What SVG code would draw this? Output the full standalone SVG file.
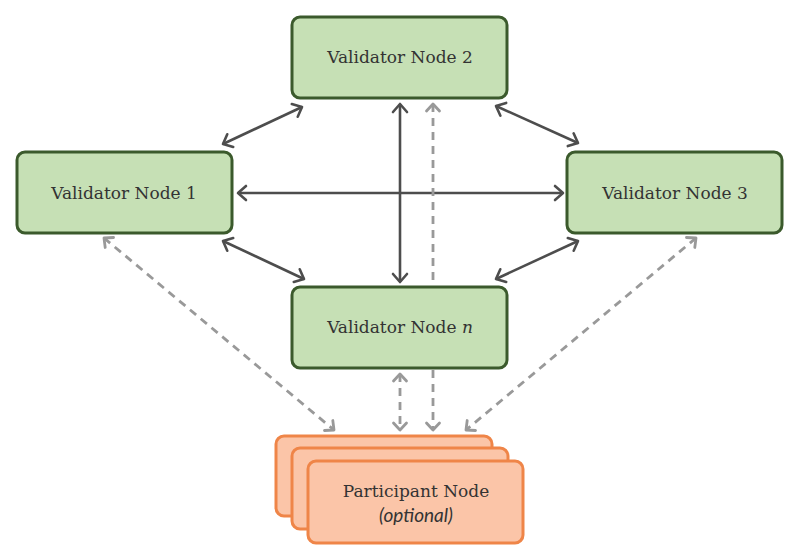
<svg xmlns="http://www.w3.org/2000/svg" width="800" height="558" viewBox="0 0 800 558">
<style>
.vn{fill:#c6e0b5;stroke:#3b5a2c;stroke-width:3}
.pn{fill:#fbc5a8;stroke:#ef8548;stroke-width:3}
.t{font-family:"DejaVu Serif","Liberation Serif",serif;font-size:17px;fill:#333;text-anchor:middle}
.ti{font-family:"Lato","Liberation Sans",sans-serif;font-style:italic;font-size:19px;fill:#333;text-anchor:middle}
.s{stroke:#4d4d4d;stroke-width:2.6;fill:none;marker-start:url(#ad);marker-end:url(#ad)}
.d{stroke:#999;stroke-width:2.8;fill:none;stroke-dasharray:8 6;marker-start:url(#al);marker-end:url(#al)}
</style>
<defs>
<marker id="ad" markerUnits="userSpaceOnUse" viewBox="-12 -9 14 18" markerWidth="14" markerHeight="18" refX="0" refY="0" orient="auto-start-reverse">
<path d="M-8,-7 L0,0 L-8,7" fill="none" stroke="#4d4d4d" stroke-width="2.6" stroke-linecap="round" stroke-linejoin="round"/>
</marker>
<marker id="al" markerUnits="userSpaceOnUse" viewBox="-12 -9 14 18" markerWidth="14" markerHeight="18" refX="0" refY="0" orient="auto-start-reverse">
<path d="M-7,-6.5 L0,0 L-7,6.5" fill="none" stroke="#999" stroke-width="2.8" stroke-linecap="round" stroke-linejoin="round"/>
</marker>
</defs>
<g id="connectors">
<line class="s" x1="223" y1="144" x2="302" y2="107"/>
<line class="s" x1="496" y1="106" x2="578" y2="143"/>
<line class="s" x1="238" y1="193" x2="563" y2="193"/>
<line class="s" x1="400" y1="104" x2="400" y2="282"/>
<line class="s" x1="223" y1="241" x2="304" y2="279"/>
<line class="s" x1="578" y1="241" x2="496" y2="279"/>
<line class="d" x1="433" y1="104" x2="433" y2="430"/>
<line class="d" x1="400" y1="374" x2="400" y2="430"/>
<line class="d" x1="104" y1="238" x2="334" y2="430"/>
<line class="d" x1="696" y1="238" x2="466" y2="430"/>
</g>
<g id="node-v2">
<rect class="vn" x="292" y="17" width="215" height="81" rx="8"/>
<text class="t" x="400" y="63">Validator Node 2</text>
</g>
<g id="node-v1">
<rect class="vn" x="17" y="152" width="215" height="81" rx="8"/>
<text class="t" x="124" y="199">Validator Node 1</text>
</g>
<g id="node-v3">
<rect class="vn" x="567" y="152" width="215" height="81" rx="8"/>
<text class="t" x="675" y="199">Validator Node 3</text>
</g>
<g id="node-vn">
<rect class="vn" x="292" y="287" width="215" height="81" rx="8"/>
<text class="t" x="400" y="333">Validator Node <tspan font-style="italic">n</tspan></text>
</g>
<g id="node-participant">
<rect class="pn" x="276" y="436" width="216" height="80" rx="8"/>
<rect class="pn" x="292" y="448" width="216" height="81" rx="8"/>
<rect class="pn" x="308" y="461" width="215" height="82" rx="8"/>
<text class="t" x="416" y="497">Participant Node</text>
<text class="ti" x="416" y="522">(optional)</text>
</g>
</svg>
